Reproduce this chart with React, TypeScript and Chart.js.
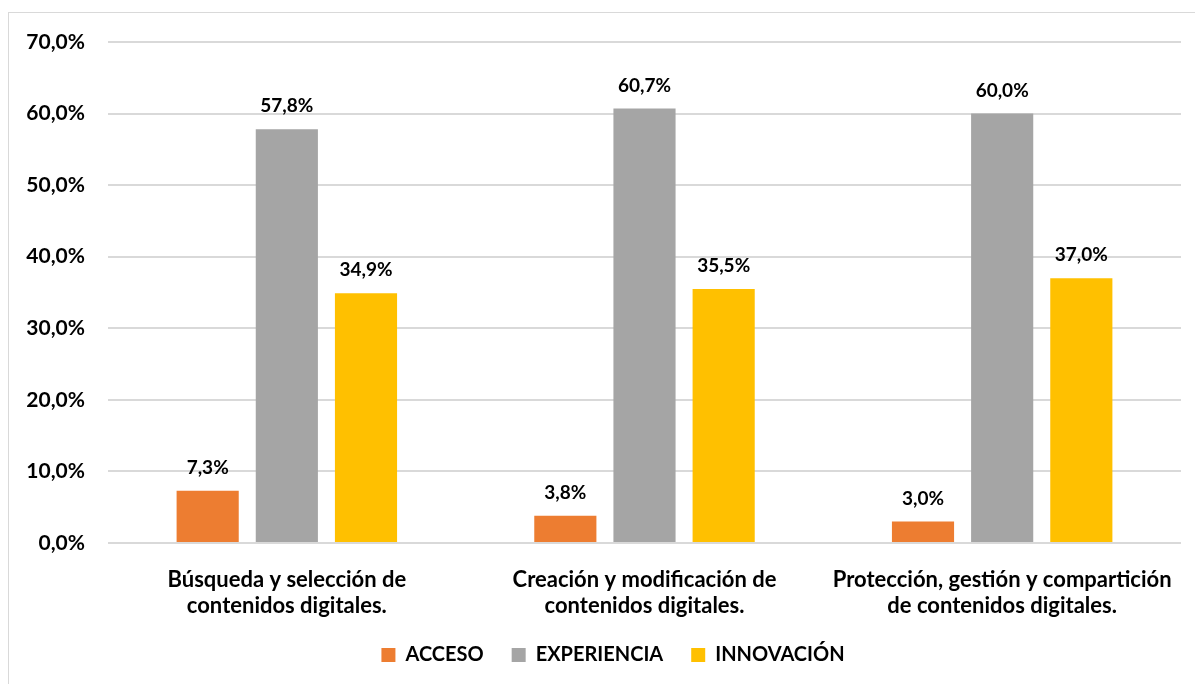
import React, { useEffect, useRef } from "react";
import { Chart, registerables } from "chart.js";

Chart.register(...registerables);

const categories: string[][] = [
  ["Búsqueda y selección de", "contenidos digitales."],
  ["Creación y modificación de", "contenidos digitales."],
  ["Protección, gestión y compartición", "de contenidos digitales."],
];
const seriesNames = ["ACCESO", "EXPERIENCIA", "INNOVACIÓN"];
const acceso = [7.3, 3.8, 3.0];
const experiencia = [57.8, 60.7, 60.0];
const innovacion = [34.9, 35.5, 37.0];
const seriesColors = ["#ED7D31", "#A5A5A5", "#FFC000"];
const yTicks = [0, 10, 20, 30, 40, 50, 60, 70];

const FONT = "Lato, 'Open Sans', sans-serif";
const fmt = (v: number) => v.toFixed(1).replace(".", ",") + "%";

const dataLabels = {
  id: "dataLabels",
  afterDatasetsDraw(chart: any) {
    const ctx = chart.ctx;
    ctx.save();
    ctx.font = `bold 19px ${FONT}`;
    ctx.fillStyle = "#000";
    ctx.textAlign = "center";
    ctx.textBaseline = "alphabetic";
    chart.data.datasets.forEach((ds: any, i: number) => {
      const meta = chart.getDatasetMeta(i);
      meta.data.forEach((el: any, j: number) => {
        ctx.fillText(fmt(ds.data[j]), el.x, el.y - 17);
      });
    });
    ctx.restore();
  },
};

const legendShift = {
  id: "legendShift",
  afterLayout(chart: any) {
    const l = chart.legend;
    if (l) {
      l.left += 18;
      l.right += 18;
    }
  },
};

export default function App() {
  const ref = useRef<HTMLCanvasElement | null>(null);
  useEffect(() => {
    if (!ref.current) return;
    const allSeries = [acceso, experiencia, innovacion];
    const chart = new Chart(ref.current, {
      type: "bar",
      data: {
        labels: categories,
        datasets: allSeries.map((d, i) => ({
          label: seriesNames[i],
          data: d,
          backgroundColor: seriesColors[i],
          categoryPercentage: 0.664,
          barPercentage: 0.785,
        })),
      },
      options: {
        animation: false,
        responsive: true,
        maintainAspectRatio: false,
        layout: { padding: { top: 29, right: 18, bottom: 10, left: 0 } },
        plugins: {
          legend: {
            position: "bottom",
            labels: {
              boxWidth: 14,
              boxHeight: 14,
              padding: 28,
              color: "#000",
              font: { family: FONT, size: 20, weight: "bold" },
            },
          },
          tooltip: { enabled: false },
        },
        scales: {
          x: {
            grid: { display: false },
            border: { display: false },
            afterFit: (s: any) => {
              s.height -= 18;
            },
            ticks: {
              color: "#000",
              padding: 16,
              maxRotation: 0,
              font: { family: FONT, size: 22, weight: "bold", lineHeight: 26 / 22 },
            },
          },
          y: {
            min: 0,
            max: 70,
            afterBuildTicks: (s: any) => {
              s.ticks = yTicks.map((v) => ({ value: v }));
            },
            afterFit: (s: any) => {
              s.width = 99;
            },
            grid: {
              color: "#d9d9d9",
              lineWidth: 2,
              drawTicks: true,
              tickLength: 23,
              tickColor: "rgba(0,0,0,0)",
            },
            border: { display: false },
            ticks: {
              color: "#000",
              padding: 0,
              font: { family: FONT, size: 21, weight: "bold" },
              callback: (v: any) => fmt(Number(v)),
            },
          },
        },
      },
      plugins: [dataLabels, legendShift],
    });
    return () => chart.destroy();
  }, []);
  return (
    <div
      style={{
        position: "absolute",
        left: 8,
        top: 12,
        width: 1190,
        height: 672,
        border: "1px solid #d9d9d9",
        background: "#fff",
      }}
    >
      <canvas ref={ref} />
    </div>
  );
}
